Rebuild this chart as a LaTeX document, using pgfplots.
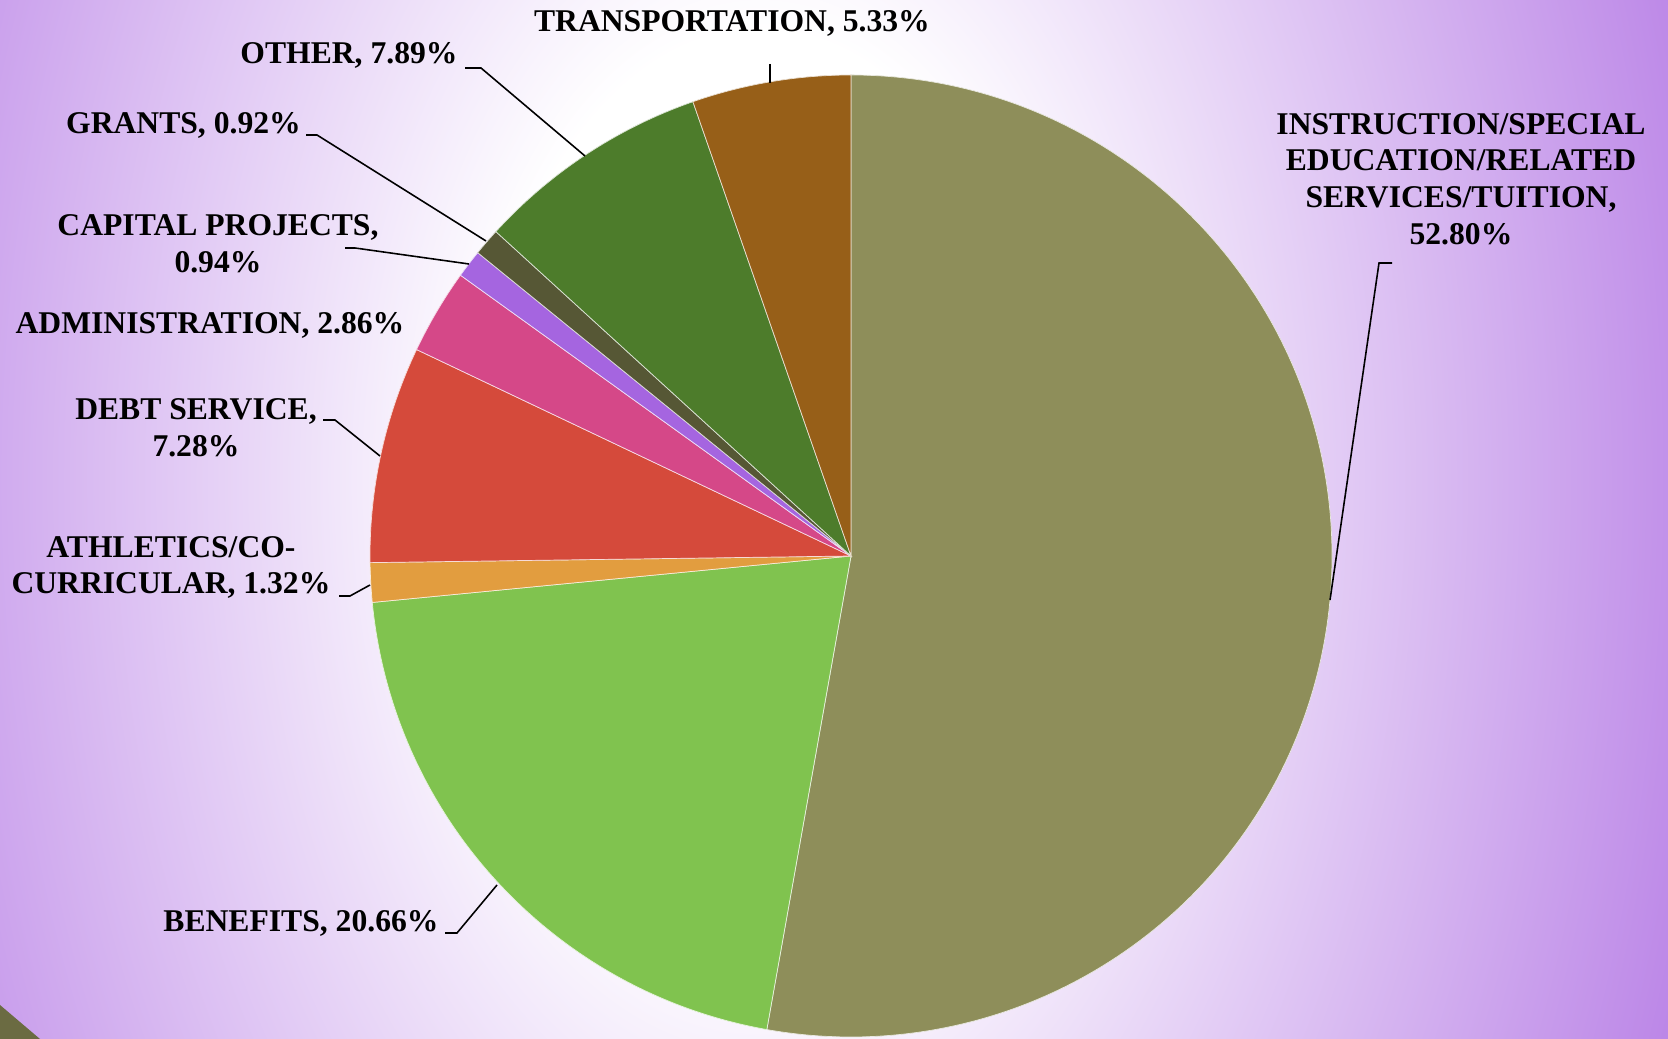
\documentclass[border=0pt]{standalone}
\usepackage{pgfplots}
\pgfplotsset{compat=1.18}
\usepackage{fontspec}
\setmainfont{Liberation Serif}
\definecolor{bgpurple}{RGB}{187,133,231}
\definecolor{cCorner}{RGB}{107,107,66}
\definecolor{cInstr}{RGB}{142,142,90}
\definecolor{cBen}{RGB}{128,195,79}
\definecolor{cAth}{RGB}{226,157,63}
\definecolor{cDebt}{RGB}{213,74,59}
\definecolor{cAdm}{RGB}{213,72,136}
\definecolor{cCap}{RGB}{165,101,224}
\definecolor{cGra}{RGB}{86,87,53}
\definecolor{cOth}{RGB}{77,124,43}
\definecolor{cTra}{RGB}{151,95,24}
\pgfdeclareradialshading{bgshade}{\pgfpointorigin}{color(0bp)=(white); color(7bp)=(white); color(24.5bp)=(bgpurple); color(50bp)=(bgpurple)}
\newcommand\lbl{\fontsize{9}{10.4}\selectfont\bfseries}
\begin{document}
\begin{tikzpicture}
% shares in percent, clockwise from 12 o'clock
\pgfmathsetmacro\aA{90}
\pgfmathsetmacro\aB{\aA-52.80*3.6}
\pgfmathsetmacro\aC{\aB-20.66*3.6}
\pgfmathsetmacro\aD{\aC-1.32*3.6}
\pgfmathsetmacro\aE{\aD-7.28*3.6}
\pgfmathsetmacro\aF{\aE-2.86*3.6}
\pgfmathsetmacro\aG{\aF-0.94*3.6}
\pgfmathsetmacro\aH{\aG-0.92*3.6}
\pgfmathsetmacro\aI{\aH-7.89*3.6}
\pgfmathsetmacro\aJ{\aI-5.33*3.6}
\begin{axis}[scale only axis, width=16.68cm, height=10.39cm,
  xmin=0, xmax=1668, ymin=0, ymax=1039, hide axis, clip=false]
\begin{scope}
\clip (axis cs:0,0) rectangle (axis cs:1668,1039);
\shade[overlay, shading=bgshade] (axis cs:760,559) ellipse [x radius=10cm, y radius=16cm];
\fill[cCorner] (axis cs:0,34) -- (axis cs:40,0) -- (axis cs:0,0) -- cycle;
\end{scope}
\tikzset{slice/.style={fill=#1, draw=white!80!#1, line width=0.2pt}}
\fill[slice=cInstr] (axis cs:851,483) -- ++(\aA:4.81cm) arc[start angle=\aA, end angle=\aB, radius=4.81cm] -- cycle;
\fill[slice=cBen] (axis cs:851,483) -- ++(\aB:4.81cm) arc[start angle=\aB, end angle=\aC, radius=4.81cm] -- cycle;
\fill[slice=cAth] (axis cs:851,483) -- ++(\aC:4.81cm) arc[start angle=\aC, end angle=\aD, radius=4.81cm] -- cycle;
\fill[slice=cDebt] (axis cs:851,483) -- ++(\aD:4.81cm) arc[start angle=\aD, end angle=\aE, radius=4.81cm] -- cycle;
\fill[slice=cAdm] (axis cs:851,483) -- ++(\aE:4.81cm) arc[start angle=\aE, end angle=\aF, radius=4.81cm] -- cycle;
\fill[slice=cCap] (axis cs:851,483) -- ++(\aF:4.81cm) arc[start angle=\aF, end angle=\aG, radius=4.81cm] -- cycle;
\fill[slice=cGra] (axis cs:851,483) -- ++(\aG:4.81cm) arc[start angle=\aG, end angle=\aH, radius=4.81cm] -- cycle;
\fill[slice=cOth] (axis cs:851,483) -- ++(\aH:4.81cm) arc[start angle=\aH, end angle=\aI, radius=4.81cm] -- cycle;
\fill[slice=cTra] (axis cs:851,483) -- ++(\aI:4.81cm) arc[start angle=\aI, end angle=\aJ, radius=4.81cm] -- cycle;
% leader lines
\tikzset{lead/.style={black, line width=0.45pt}}
\draw[lead] (axis cs:770,975) -- (axis cs:770,956);
\draw[lead] (axis cs:465,971) -- (axis cs:481,971) -- (axis cs:585,883);
\draw[lead] (axis cs:306,904) -- (axis cs:317,904) -- (axis cs:486,798);
\draw[lead] (axis cs:345,791) -- (axis cs:355,791) -- (axis cs:469,775);
\draw[lead] (axis cs:323,619) -- (axis cs:335,619) -- (axis cs:380,583);
\draw[lead] (axis cs:339,443) -- (axis cs:350,443) -- (axis cs:370,454);
\draw[lead] (axis cs:445,106) -- (axis cs:457,106) -- (axis cs:497,154);
\draw[lead] (axis cs:1392,776) -- (axis cs:1379,776) -- (axis cs:1330,439);
% labels
\tikzset{lab/.style={font=\lbl, align=center, inner sep=0pt, text=black}}
\node[lab] at (axis cs:732,1015.6) {TRANSPORTATION, 5.33\%};
\node[lab] at (axis cs:349,983.7) {OTHER, 7.89\%};
\node[lab] at (axis cs:183.5,913.5) {GRANTS, 0.92\%};
\node[lab] at (axis cs:218,795.5) {CAPITAL PROJECTS,\\0.94\%};
\node[lab] at (axis cs:210,714) {ADMINISTRATION, 2.86\%};
\node[lab] at (axis cs:196,611) {DEBT SERVICE,\\7.28\%};
\node[lab] at (axis cs:171,471.5) {ATHLETICS/CO-\\CURRICULAR, 1.32\%};
\node[lab] at (axis cs:301,115.7) {BENEFITS, 20.66\%};
\node[lab] at (axis cs:1461,860) {INSTRUCTION/SPECIAL\\EDUCATION/RELATED\\SERVICES/TUITION,\\52.80\%};
\end{axis}
\pgfresetboundingbox
\path[use as bounding box] (current axis.south west) rectangle (current axis.north east);
\end{tikzpicture}
\end{document}
